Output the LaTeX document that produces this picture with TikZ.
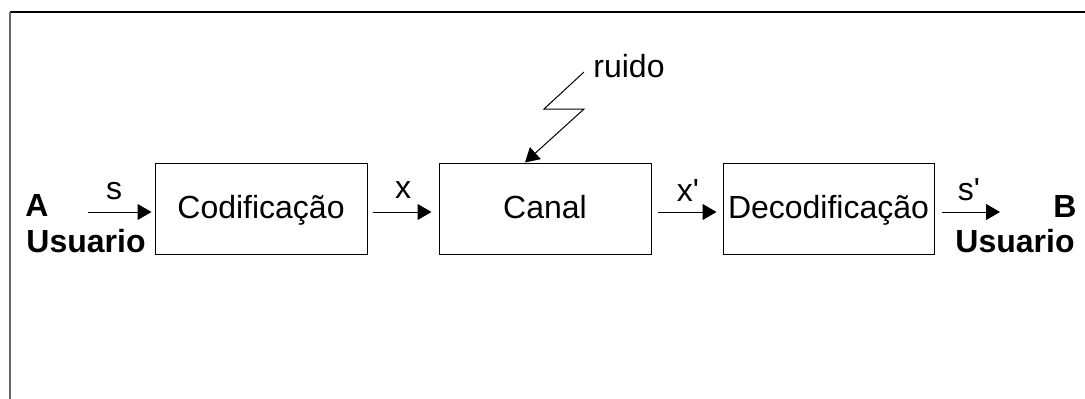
\documentclass[tikz,border=0pt]{standalone}
\usepackage{fontspec}
\setmainfont{Liberation Sans}
\usetikzlibrary{arrows.meta}

\begin{document}
\begin{tikzpicture}[x=1pt, y=-1pt,
  every node/.style={font=\fontsize{32}{38}\selectfont, inner sep=0pt},
  bloco/.style={draw, line width=1pt, minimum width=212pt, minimum height=91pt,
    text height=23pt, text depth=3pt},
  seta/.style={-{Triangle[length=14pt,width=16pt]}, line width=1pt},
  usuario/.style={font=\fontsize{32}{38}\selectfont\bfseries}]
  \useasboundingbox (0,0) rectangle (1085,399);

  % Frame
  \draw[line width=2pt] (10,12) -- (1085,12);
  \draw[line width=2.5pt, gray!80!black] (10,12) -- (10,399);

  % Blocks
  \node[bloco] (cod) at (261,208.5) {Codificação};
  \node[bloco] (canal) at (545,208.5) {Canal};
  \node[bloco, minimum width=211pt] (dec) at (828.5,208.5) {Decodificação};

  % Users
  \node[usuario] (A) at (37,205) {A};
  \node[usuario] (UA) at (86,241) {Usuario};
  \node[usuario] (B) at (1065,206) {B};
  \node[usuario] (UB) at (1015,241) {Usuario};

  % Signal labels
  \node (s) at (114,191) {s};
  \node (x) at (403,190) {x};
  \node (xl) at (688,190) {x\textquotesingle};
  \node (sl) at (969,190) {s\textquotesingle};

  % Noise
  \node (ruido) at (629,66) {ruido};
  \coordinate (nz) at (584,72);
  \coordinate (inA) at (88,212);
  \coordinate (outB) at (1000,212);

  % Arrows
  \draw[seta, shorten >=3pt] (inA) -- (cod.west |- inA);
  \draw[seta, shorten <=5pt, shorten >=7pt] (cod.east |- inA) -- (canal.west |- inA);
  \draw[seta, shorten <=6pt, shorten >=6pt] (canal.east |- inA) -- (dec.west |- inA);
  \draw[seta, shorten <=7pt] (dec.east |- inA) -- (outB);
  \draw[seta] (nz) -- ++(-40,37) -- ++(40,0) -- (canal.north -| 525,0);
\end{tikzpicture}
\end{document}
